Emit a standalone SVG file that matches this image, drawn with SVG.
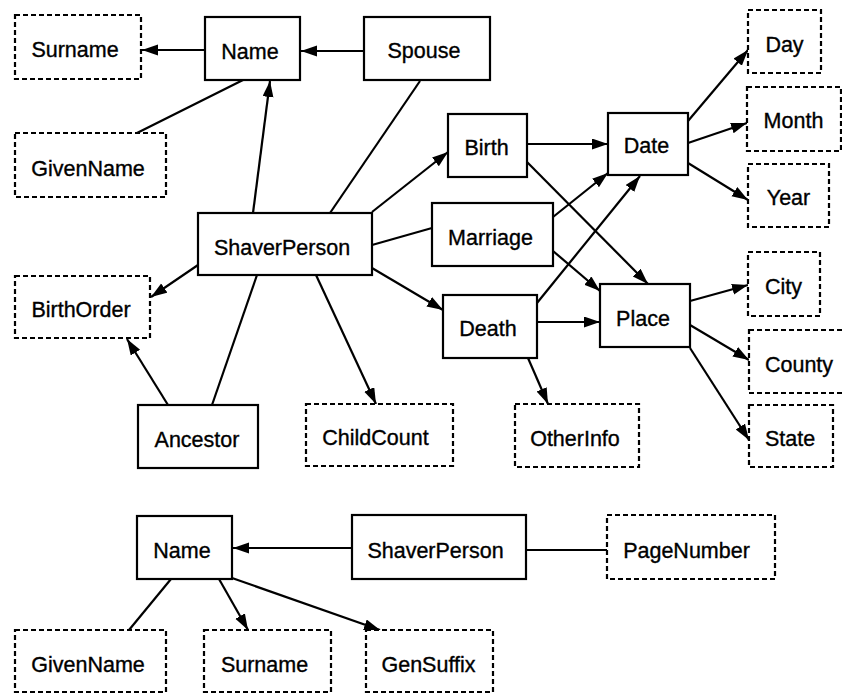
<svg xmlns="http://www.w3.org/2000/svg" width="842" height="694" viewBox="0 0 842 694">
<style>
.n rect{fill:#fff;stroke:#000;stroke-width:2.2}
.d rect{fill:#fff;stroke:#000;stroke-width:2.2;stroke-dasharray:5,3}
text{font-family:"Liberation Sans",Arial,sans-serif;font-size:21.5px;fill:#000;stroke:#000;stroke-width:0.35;text-anchor:middle}
#edges path{fill:none;stroke:#000;stroke-width:2.2}
#edges path.a{marker-end:url(#ah)}
</style>
<defs>
<marker id="ah" markerUnits="userSpaceOnUse" markerWidth="17" markerHeight="12" refX="16" refY="5.5" orient="auto">
<path d="M0,0 L16,5.5 L0,11 z" fill="#000"/>
</marker>
</defs>
<rect x="0" y="0" width="842" height="694" fill="#fff"/>
<g id="edges">
<path class="a" d="M205,50 L142,50"/>
<path class="a" d="M364,51 L301,51"/>
<path d="M137,133 L243,80"/>
<path class="a" d="M253,213 L270,81"/>
<path d="M330,213 L420,81"/>
<path class="a" d="M372,212 L448,152"/>
<path d="M372,245 L432,228"/>
<path class="a" d="M372,268 L443,310"/>
<path class="a" d="M198,265 L151,297"/>
<path class="a" d="M168,405 L127,339"/>
<path d="M212,405 L257,275"/>
<path class="a" d="M316,275 L376,404"/>
<path class="a" d="M527,144 L608,144"/>
<path class="a" d="M527,162 L648,284"/>
<path class="a" d="M553,217 L608,173"/>
<path class="a" d="M553,251 L600,291"/>
<path class="a" d="M537,303 L640,176"/>
<path class="a" d="M537,322 L600,322"/>
<path class="a" d="M528,358 L548,404"/>
<path class="a" d="M688,121 L748,50"/>
<path class="a" d="M688,143 L747,123"/>
<path class="a" d="M688,163 L748,200"/>
<path class="a" d="M690,301 L748,285"/>
<path class="a" d="M690,325 L749,360"/>
<path class="a" d="M690,348 L749,440"/>
<path class="a" d="M352,548 L233,548"/>
<path d="M526,550 L607,550"/>
<path d="M171,579 L129,630"/>
<path class="a" d="M219,579 L248,630"/>
<path class="a" d="M232,578 L380,630"/>
</g>
<g id="surname" class="d"><rect x="15" y="15" width="126" height="64"/><text x="75" y="57">Surname</text></g>
<g id="name" class="n"><rect x="205" y="17" width="95" height="63"/><text x="250" y="59">Name</text></g>
<g id="spouse" class="n"><rect x="364" y="17" width="126" height="63"/><text x="424" y="58">Spouse</text></g>
<g id="givenname" class="d"><rect x="15" y="133" width="151" height="64"/><text x="88" y="176">GivenName</text></g>
<g id="shaverperson" class="n"><rect x="198" y="213" width="174" height="62"/><text x="282" y="255">ShaverPerson</text></g>
<g id="birth" class="n"><rect x="448" y="114" width="79" height="63"/><text x="486.5" y="155">Birth</text></g>
<g id="marriage" class="n"><rect x="432" y="203" width="121" height="63"/><text x="490.5" y="245">Marriage</text></g>
<g id="death" class="n"><rect x="443" y="295" width="94" height="63"/><text x="488" y="336">Death</text></g>
<g id="date" class="n"><rect x="608" y="113" width="80" height="62"/><text x="646.5" y="153">Date</text></g>
<g id="place" class="n"><rect x="600" y="284" width="90" height="63"/><text x="643" y="326">Place</text></g>
<g id="day" class="d"><rect x="748" y="10" width="73" height="63"/><text x="784.5" y="52">Day</text></g>
<g id="month" class="d"><rect x="747" y="87" width="94" height="64"/><text x="793.5" y="128">Month</text></g>
<g id="year" class="d"><rect x="748" y="164" width="81" height="63"/><text x="788.5" y="205">Year</text></g>
<g id="city" class="d"><rect x="748" y="252" width="72" height="64"/><text x="783.5" y="294">City</text></g>
<g id="county" class="d"><rect x="749" y="330" width="95" height="63"/><text x="799" y="372">County</text></g>
<g id="state" class="d"><rect x="749" y="405" width="84" height="62"/><text x="790" y="446">State</text></g>
<g id="otherinfo" class="d"><rect x="515" y="404" width="124" height="63"/><text x="575" y="446">OtherInfo</text></g>
<g id="birthorder" class="d"><rect x="15" y="276" width="135" height="62"/><text x="81" y="317">BirthOrder</text></g>
<g id="ancestor" class="n"><rect x="138" y="405" width="120" height="63"/><text x="197" y="447">Ancestor</text></g>
<g id="childcount" class="d"><rect x="306" y="404" width="147" height="62"/><text x="375.5" y="445">ChildCount</text></g>
<g id="name2" class="n"><rect x="137" y="516" width="95" height="63"/><text x="182" y="558">Name</text></g>
<g id="shaverperson2" class="n"><rect x="352" y="515" width="174" height="64"/><text x="435.5" y="558">ShaverPerson</text></g>
<g id="pagenumber" class="d"><rect x="607" y="515" width="168" height="64"/><text x="686.5" y="558">PageNumber</text></g>
<g id="givenname2" class="d"><rect x="15" y="630" width="151" height="62"/><text x="88" y="672">GivenName</text></g>
<g id="surname2" class="d"><rect x="204" y="630" width="127" height="62"/><text x="264.5" y="672">Surname</text></g>
<g id="gensuffix" class="d"><rect x="366" y="630" width="127" height="62"/><text x="428.5" y="672">GenSuffix</text></g>
</svg>
